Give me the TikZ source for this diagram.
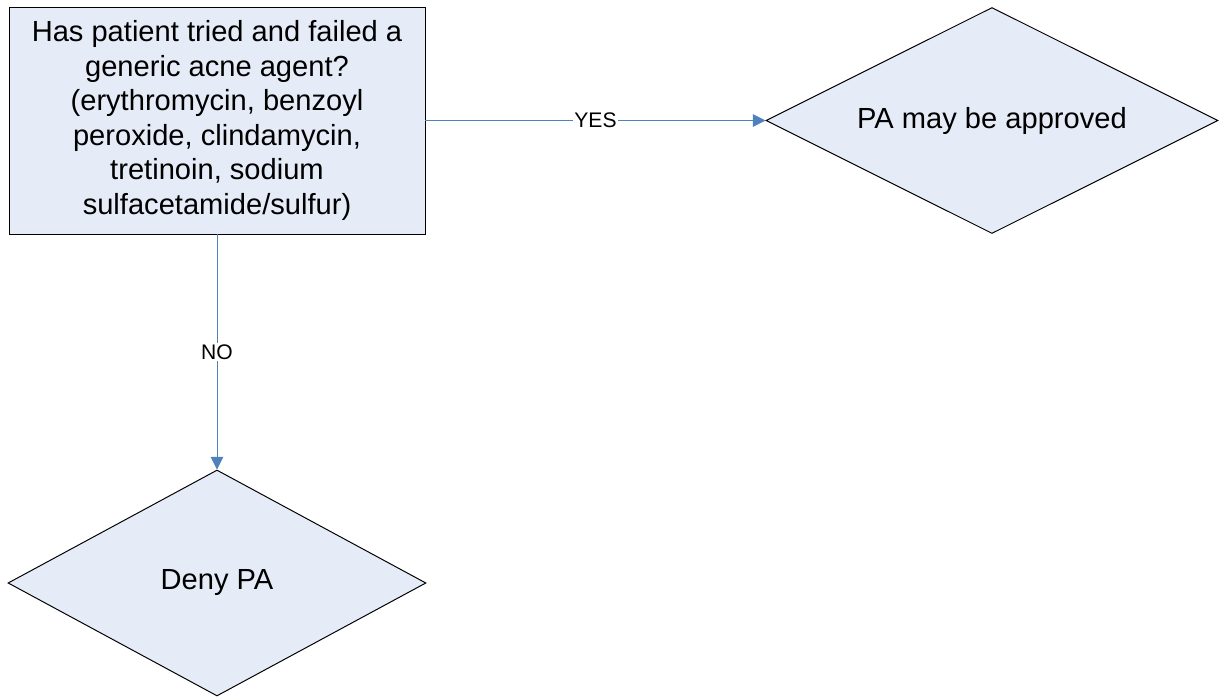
\documentclass[tikz,border=0pt]{standalone}
\usepackage{fontspec}
\setmainfont{Liberation Sans}
\usepackage{xcolor}
\definecolor{cFill}{HTML}{E6ECF7}
\definecolor{cLink}{HTML}{4F81BD}
\usetikzlibrary{positioning,arrows.meta,shapes.geometric}
\tikzset{
  node-box/.style={draw=black,line width=0.7pt,fill=cFill,align=center,
    minimum width=10.4cm,minimum height=5.675cm,inner sep=0pt,
    font=\fontsize{20.7}{24.5}\selectfont},
  node-decide/.style={draw=black,line width=0.7pt,fill=cFill,diamond,aspect=2,
    minimum height=5.65cm,inner sep=0pt,align=center,
    font=\fontsize{20.7}{23.1}\selectfont},
  arrow/.style={-{Triangle[length=9pt,width=9pt]},line width=0.7pt,draw=cLink},
  link-label/.style={fill=white,inner sep=1pt,font=\fontsize{15}{16}\selectfont},
}
\begin{document}
\begin{tikzpicture}
  \useasboundingbox (-5.425,3.0125) rectangle (25.05,-14.4125);
  \node[node-box] (ask) {Has patient tried and failed a\\generic acne agent?\\(erythromycin, benzoyl\\peroxide, clindamycin,\\tretinoin, sodium\\sulfacetamide/sulfur)};
  \node[node-decide,minimum width=11.3cm,right=8.5cm of ask] (ok) {PA may be approved};
  \node[node-decide,minimum width=10.45cm,below=5.875cm of ask] (deny) {Deny PA};
  \draw[arrow] (ask.east) -- node[link-label,pos=0.5] {YES} (ok.west);
  \draw[arrow] (ask.south) -- node[link-label,pos=0.5] {NO} (deny.north);
\end{tikzpicture}
\end{document}
